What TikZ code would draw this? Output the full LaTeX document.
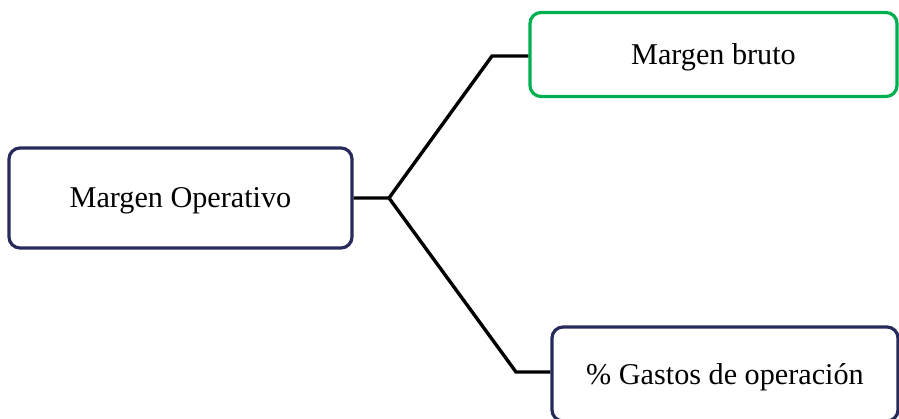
\documentclass[tikz,border=0pt]{standalone}
\usepackage{fontspec}
\setmainfont{Liberation Serif}
\definecolor{navy}{HTML}{272B5B}
\definecolor{grn}{HTML}{00B050}
\begin{document}
\begin{tikzpicture}[x=1pt,y=-1pt,
  box/.style={draw=navy,line width=3.2pt,rounded corners=11pt,fill=white,
    inner sep=0pt,text depth=0pt,font=\fontsize{30.2}{36}\selectfont,text=black},
  conn/.style={draw=black,line width=3.4pt}]
\useasboundingbox (0,0) rectangle (899,419);
\clip (0,0) rectangle (899,419);
\node[box,minimum width=343pt,minimum height=100pt] (mo) at (180.5,198) {Margen Operativo};
\node[box,draw=grn,minimum width=367pt,minimum height=84pt] (mb) at (713.5,54.5) {Margen bruto};
\node[box,minimum width=346pt,minimum height=94pt] (go) at (725,374) {\% Gastos de operación};
\coordinate (j) at (389,198);
\coordinate (u) at (492,56);
\coordinate (d) at (516,372);
\draw[conn] (mo.east) -- (j) -- (u) -- (u -| mb.west);
\draw[conn] (j) -- (d) -- (d -| go.west);
\end{tikzpicture}
\end{document}
